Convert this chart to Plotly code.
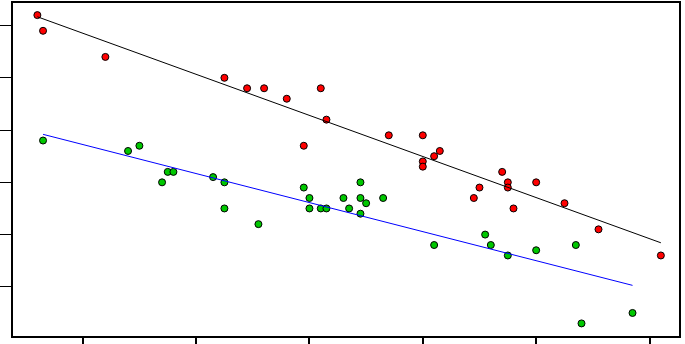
import numpy as np
import plotly.graph_objects as go

# Red series
red_x = [12, 13, 24, 45, 49, 52, 56, 62, 63, 59, 74, 80, 80, 80, 82, 83, 89, 90, 94, 95, 95, 96, 100, 105, 111, 122]
red_y = [62, 59, 54, 50, 48, 48, 46, 48, 42, 37, 39, 39, 34, 33, 35, 36, 27, 29, 32, 30, 29, 25, 30, 26, 21, 16]

# Green series
green_x = [13, 28, 30, 34, 35, 36, 43, 45, 45, 51, 59, 60, 60, 62, 63, 66, 67, 69, 69, 70, 69, 73, 82, 91, 92, 95, 100, 107, 108, 117]
green_y = [38, 36, 37, 30, 32, 32, 31, 30, 25, 22, 29, 27, 25, 25, 25, 27, 25, 30, 27, 26, 24, 27, 18, 20, 18, 16, 17, 18, 3, 5]

x_ticks = [20, 40, 60, 80, 100, 120]
y_ticks = [10, 20, 30, 40, 50, 60]


def fit(xs, ys):
    xs = np.array(xs, float)
    ys = np.array(ys, float)
    m, b = np.polyfit(xs, ys, 1)
    lx = np.array([xs.min(), xs.max()])
    return lx, m * lx + b


fig = go.Figure()
fig.add_trace(go.Scatter(x=red_x, y=red_y, mode="markers",
                         marker=dict(size=7, color="#ff0000", line=dict(color="black", width=1))))
fig.add_trace(go.Scatter(x=green_x, y=green_y, mode="markers",
                         marker=dict(size=7, color="#00c800", line=dict(color="black", width=1))))
rx, ry = fit(red_x, red_y)
gx, gy = fit(green_x, green_y)
fig.add_trace(go.Scatter(x=rx, y=ry, mode="lines", line=dict(color="black", width=1)))
fig.add_trace(go.Scatter(x=gx, y=gy, mode="lines", line=dict(color="blue", width=1)))

fig.update_layout(
    width=685, height=344,
    margin=dict(l=13, r=6, t=1, b=7),
    paper_bgcolor="white", plot_bgcolor="white",
    showlegend=False,
    xaxis=dict(range=[7.7, 125.2], tickvals=x_ticks, showticklabels=False,
               ticks="outside", ticklen=7, tickwidth=1.5, tickcolor="black",
               showline=True, linecolor="black", linewidth=2, mirror=True,
               showgrid=False, zeroline=False),
    yaxis=dict(range=[0.59, 64.32], tickvals=y_ticks, showticklabels=False,
               ticks="outside", ticklen=12, tickwidth=1, tickcolor="black",
               showline=True, linecolor="black", linewidth=2, mirror=True,
               showgrid=False, zeroline=False),
)
fig.write_html("out.html")
